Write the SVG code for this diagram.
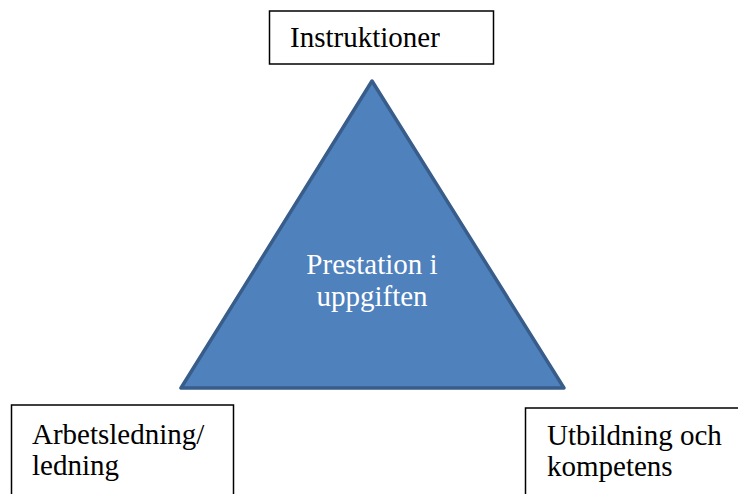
<svg xmlns="http://www.w3.org/2000/svg" width="738" height="494" viewBox="0 0 738 494">
<style>
.box{fill:#fff;stroke:#000;stroke-width:1.5}
.t{font-family:"Liberation Serif","Times New Roman",serif;font-size:29px;fill:#000}
.w{fill:#fff;text-anchor:middle}
</style>
<rect width="738" height="494" fill="#fff"/>
<g id="connectors"></g>
<g id="triangle">
<polygon points="372,81 181,388 564,388" fill="#4F81BD" stroke="#385D8A" stroke-width="3.5" stroke-linejoin="round"/>
<text class="t w" x="372" y="274">Prestation i</text>
<text class="t w" x="372" y="306">uppgiften</text>
</g>
<g id="instruktioner">
<rect class="box" x="269.5" y="11" width="224" height="53"/>
<text class="t" x="290" y="47">Instruktioner</text>
</g>
<g id="arbetsledning">
<rect class="box" x="11.5" y="405" width="222" height="100"/>
<text class="t" x="32" y="444">Arbetsledning/</text>
<text class="t" x="32" y="475">ledning</text>
</g>
<g id="utbildning">
<rect class="box" x="525.5" y="408" width="230" height="100"/>
<text class="t" x="547" y="445">Utbildning och</text>
<text class="t" x="547" y="476">kompetens</text>
</g>
</svg>
